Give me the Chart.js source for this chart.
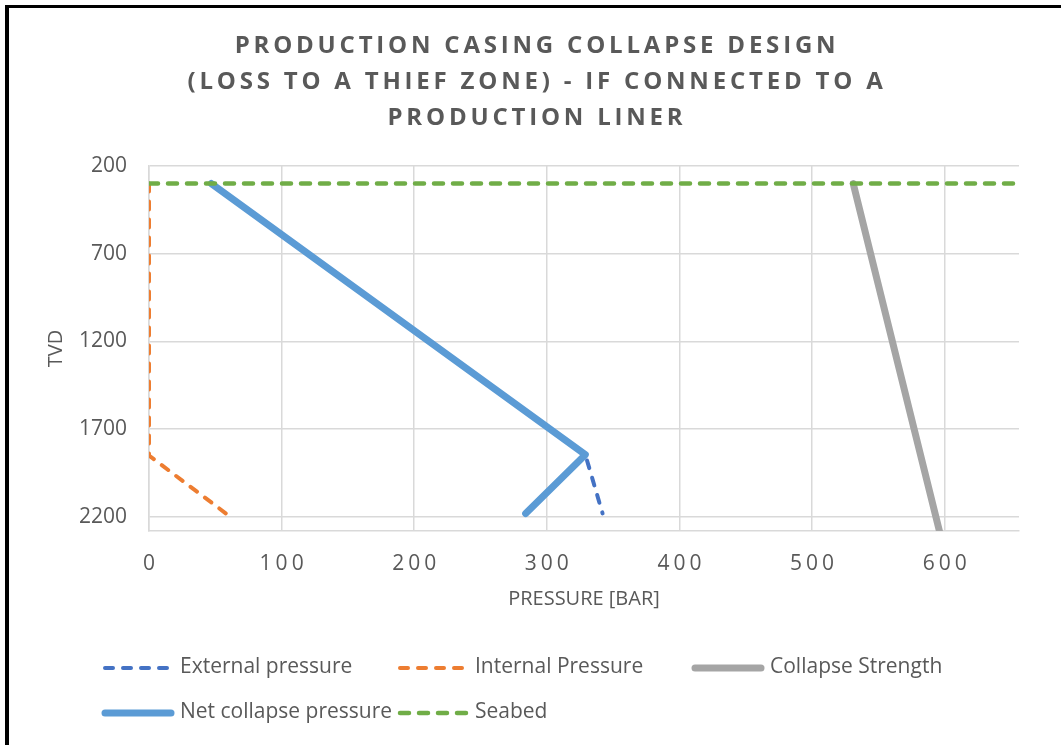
<!DOCTYPE html>
<html>
<head>
<meta charset="utf-8">
<script src="https://cdn.jsdelivr.net/npm/chart.js@4.4.0/dist/chart.umd.min.js"></script>
<style>
	html, body { margin: 0; padding: 0; background: #fff; }
	#wrap { position: relative; width: 1061px; height: 745px; overflow: hidden; }
	#frame { position: absolute; left: 5px; top: 5px; width: 1100px; height: 800px; border-left: 4px solid #000; border-top: 3px solid #000; pointer-events: none; }
</style>
</head>
<body>
<div id="wrap"><canvas id="c" width="1061" height="745"></canvas><div id="frame"></div></div>
<script>
	var titleLines = ['PRODUCTION CASING COLLAPSE DESIGN', '(LOSS TO A THIEF ZONE) - IF CONNECTED TO A', 'PRODUCTION LINER'];
	var xTitle = 'PRESSURE [BAR]';
	var yTitle = 'TVD';

	// pressure [bar] and TVD values
	var externalP = [47, 329, 342];
	var externalTvd = [300, 1845, 2180];
	var internalP = [0, 0, 58];
	var internalTvd = [300, 1850, 2180];
	var collapseP = [531, 596];
	var collapseTvd = [300, 2280];
	var netP = [47, 329, 284];
	var netTvd = [300, 1845, 2180];
	var seabedP = [0, 656];
	var seabedTvd = [300, 300];

	var xTicks = [0, 100, 200, 300, 400, 500, 600];
	var yTicks = [200, 700, 1200, 1700, 2200];
	var xRange = [0, 656];
	var yRange = [200, 2280];

	var textColor = '#595959';
	var gridColor = '#D9D9D9';
	var font = '"Open Sans", sans-serif';

	function pts(xs, ys) {
		return xs.map(function(x, i) { return {x: x, y: ys[i]}; });
	}

	function line(label, xs, ys, color, width, dash, order) {
		return {
			label: label,
			data: pts(xs, ys),
			showLine: true,
			borderColor: color,
			backgroundColor: color,
			borderWidth: width,
			borderDash: dash,
			borderCapStyle: 'round',
			borderJoinStyle: 'round',
			pointRadius: 0,
			pointHoverRadius: 0,
			fill: false,
			order: order
		};
	}

	var datasets = [
		line('External pressure', externalP, externalTvd, '#4472C4', 4, [8, 10], 5),
		line('Internal Pressure', internalP, internalTvd, '#ED7D31', 4, [8, 10], 4),
		line('Collapse Strength', collapseP, collapseTvd, '#A5A5A5', 7, [], 3),
		line('Net collapse pressure', netP, netTvd, '#5B9BD5', 7, [], 2),
		line('Seabed', seabedP, seabedTvd, '#70AD47', 4.5, [9, 10], 1)
	];

	var spacedTicks = {
		id: 'spacedTicks',
		beforeDraw: function(chart) {
			var s = chart.scales.x;
			if(s._spaced) {
				return;
			}
			var orig = s.drawLabels;
			s.drawLabels = function(area) {
				var c = this.ctx;
				c.save();
				c.letterSpacing = '4px';
				c.translate(2, 0);
				orig.call(this, area);
				c.restore();
			};
			s._spaced = true;
		}
	};

	var titleAndLegend = {
		id: 'titleAndLegend',
		afterDraw: function(chart) {
			var ctx = chart.ctx;
			ctx.save();
			ctx.fillStyle = textColor;
			ctx.textBaseline = 'middle';

			ctx.font = 'bold 24px ' + font;
			ctx.letterSpacing = '3.8px';
			ctx.textAlign = 'center';
			titleLines.forEach(function(t, i) {
				ctx.fillText(t, 537, 46 + i * 36);
			});
			ctx.letterSpacing = '0px';

			// legend, excel-like columns
			var cols = [103, 398, 693];
			var rows = [668, 713];
			ctx.font = '21px ' + font;
			ctx.textAlign = 'left';
			chart.data.datasets.forEach(function(ds, i) {
				var x = cols[i % 3];
				var y = rows[Math.floor(i / 3)];
				ctx.save();
				ctx.strokeStyle = ds.borderColor;
				ctx.lineWidth = ds.borderWidth;
				ctx.lineCap = 'round';
				ctx.setLineDash(ds.borderDash);
				ctx.beginPath();
				ctx.moveTo(x + 2, y);
				ctx.lineTo(x + 68, y);
				ctx.stroke();
				ctx.restore();
				ctx.fillText(ds.label, x + 77, y - 1);
			});
			ctx.restore();
		}
	};

	new Chart(document.getElementById('c'), {
		type: 'scatter',
		data: {datasets: datasets},
		options: {
			responsive: false,
			animation: false,
			events: [],
			layout: {padding: {left: 0, top: 166, right: 42, bottom: 134}},
			plugins: {legend: {display: false}, tooltip: {enabled: false}, title: {display: false}},
			scales: {
				x: {
					type: 'linear',
					min: xRange[0],
					max: xRange[1],
					afterBuildTicks: function(s) { s.ticks = xTicks.map(function(v) { return {value: v}; }); },
					afterFit: function(s) { s.height = 80; },
					grid: {color: gridColor, lineWidth: 1.5, drawTicks: false},
					border: {display: true, color: gridColor, width: 1.5},
					ticks: {color: textColor, font: {family: font, size: 21}, padding: 20, maxRotation: 0,
						callback: function(v) { return String(v); }},
					title: {display: true, text: xTitle, color: textColor, font: {family: font, size: 20}, padding: 0}
				},
				y: {
					type: 'linear',
					reverse: true,
					min: yRange[0],
					max: yRange[1],
					afterBuildTicks: function(s) { s.ticks = yTicks.map(function(v) { return {value: v}; }); },
					afterFit: function(s) { s.width = 149; },
					grid: {color: gridColor, lineWidth: 1.5, drawTicks: false},
					border: {display: true, color: gridColor, width: 1.5},
					ticks: {color: textColor, font: {family: font, size: 21}, padding: 22,
						callback: function(v) { return String(v); }},
					title: {display: true, text: yTitle, color: textColor, font: {family: font, size: 20}, padding: {top: 44, bottom: 0}}
				}
			}
		},
		plugins: [spacedTicks, titleAndLegend]
	});
</script>
</body>
</html>
